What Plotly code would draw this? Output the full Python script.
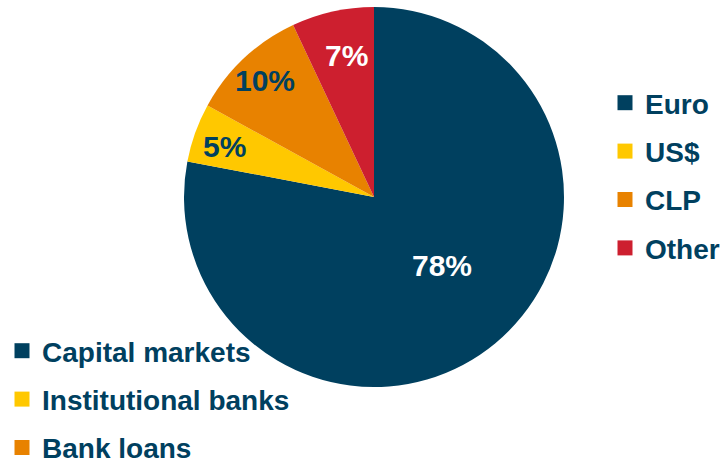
import math
import plotly.graph_objects as go

# Currency breakdown of debt (percent)
currencies = ["Euro", "US$", "CLP", "Other"]
shares = [78, 5, 10, 7]
slice_colors = ["#00405F", "#FFC800", "#E88200", "#CD1F2F"]
label_colors = ["#FFFFFF", "#00405F", "#00405F", "#FFFFFF"]

# Funding sources shown in the second legend
sources = ["Capital markets", "Institutional banks", "Bank loans"]
source_colors = ["#00405F", "#FFC800", "#E88200"]

NAVY = "#00405F"
FONT = "Liberation Sans, Arial, sans-serif"

W, H = 722, 460
cx, cy, r = 374, 197, 190

# Where each percentage label sits: fraction of the radius, angular nudge (deg)
label_radius = [0.51, 0.83, 0.84, 0.76]
label_nudge = [-5, -1, 0, 1.5]

fig = go.Figure()

fig.add_trace(go.Pie(
    labels=currencies,
    values=shares,
    sort=False,
    direction="clockwise",
    rotation=0,
    marker=dict(colors=slice_colors, line=dict(width=0)),
    textinfo="none",
    domain=dict(x=[(cx - r) / W, (cx + r) / W],
                y=[(H - cy - r) / H, (H - cy + r) / H]),
    showlegend=False,
    hoverinfo="label+percent",
))

# Percentage labels placed along each slice's bisector
total = sum(shares)
start = 0.0
for val, col, frac, nudge in zip(shares, label_colors, label_radius, label_nudge):
    mid = (start + val / 2) / total * 360 + nudge
    start += val
    px = cx + frac * r * math.sin(math.radians(mid))
    py = cy - frac * r * math.cos(math.radians(mid))
    fig.add_annotation(
        x=px / W, y=(H - py) / H, xref="paper", yref="paper",
        text=f"{val}%", showarrow=False, xanchor="center", yanchor="middle",
        font=dict(family=FONT, size=30, color=col, weight="bold"),
    )

# Legend entries: one invisible marker trace per item
for name, col in zip(currencies, slice_colors):
    fig.add_trace(go.Scatter(
        x=[None], y=[None], mode="markers", name=name,
        marker=dict(symbol="square", size=15, color=col),
        legend="legend", legendgroup=name, showlegend=True,
    ))
for name, col in zip(sources, source_colors):
    fig.add_trace(go.Scatter(
        x=[None], y=[None], mode="markers", name=name,
        marker=dict(symbol="square", size=15, color=col),
        legend="legend2", legendgroup=name, showlegend=True,
    ))

legend_font = dict(family=FONT, size=28, color=NAVY, weight="bold")

fig.update_layout(
    width=W, height=H,
    margin=dict(l=0, r=0, t=0, b=0, autoexpand=False),
    paper_bgcolor="white",
    plot_bgcolor="white",
    xaxis=dict(visible=False),
    yaxis=dict(visible=False),
    legend=dict(
        x=605 / W, y=(H - 78) / H, xanchor="left", yanchor="top",
        font=legend_font, traceorder="grouped", tracegroupgap=9,
        bgcolor="rgba(0,0,0,0)", itemwidth=30,
    ),
    legend2=dict(
        x=2 / W, y=(H - 326) / H, xanchor="left", yanchor="top",
        font=legend_font, traceorder="grouped", tracegroupgap=9,
        bgcolor="rgba(0,0,0,0)", itemwidth=30,
    ),
)

fig.write_html("out.html")
